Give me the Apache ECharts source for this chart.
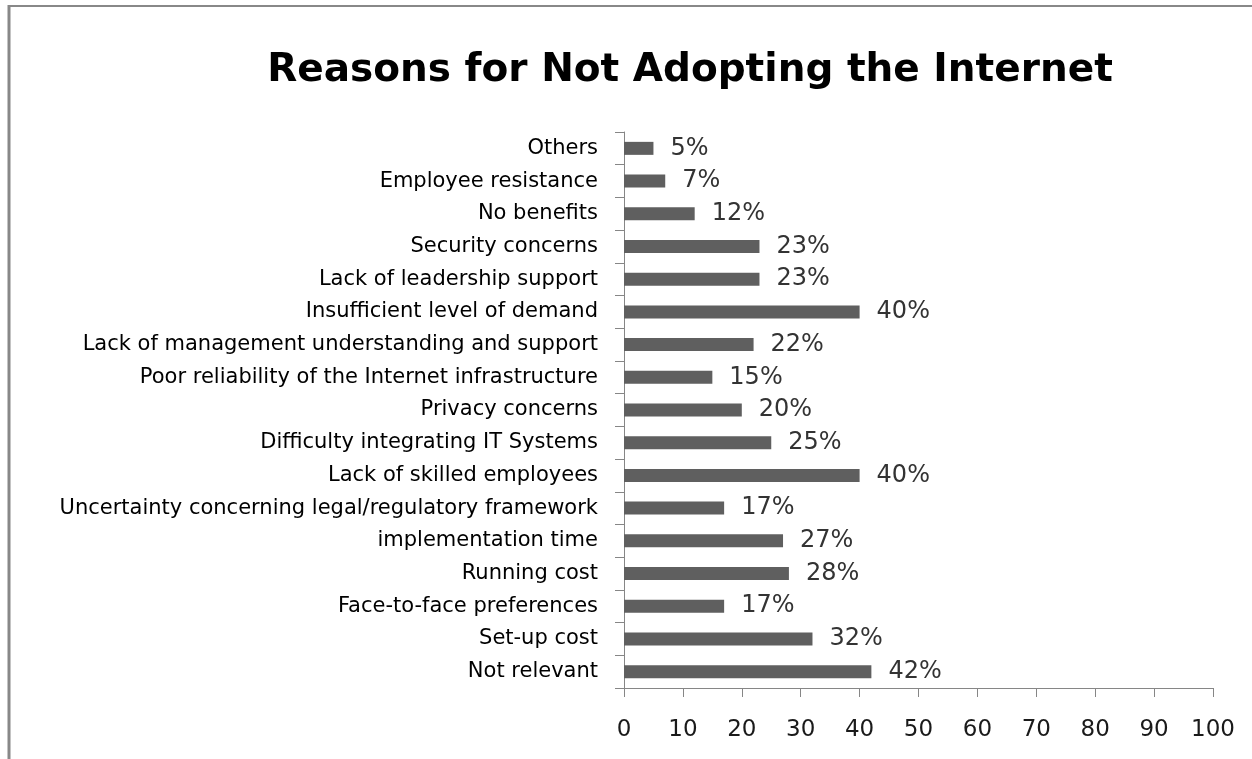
<!DOCTYPE html>
<html>
<head>
<meta charset="utf-8">
<script src="https://cdn.jsdelivr.net/npm/echarts@6/dist/echarts.min.js"></script>
<style>
html,body{margin:0;padding:0;background:#fff;}
#chart{width:1252px;height:759px;}
</style>
</head>
<body>
<div id="chart"></div>
<script>
const titleText = 'Reasons for Not Adopting the Internet';
const categories = [
  'Not relevant',
  'Set-up cost',
  'Face-to-face preferences',
  'Running cost',
  'implementation time',
  'Uncertainty concerning legal/regulatory framework',
  'Lack of skilled employees',
  'Difficulty integrating IT Systems',
  'Privacy concerns',
  'Poor reliability of the Internet infrastructure',
  'Lack of management understanding and support',
  'Insufficient level of demand',
  'Lack of leadership support',
  'Security concerns',
  'No benefits',
  'Employee resistance',
  'Others'
];
const values = [42, 32, 17, 28, 27, 17, 40, 25, 20, 15, 22, 40, 23, 23, 12, 7, 5];
const xTicks = [0, 10, 20, 30, 40, 50, 60, 70, 80, 90, 100];

const chart = echarts.init(document.getElementById('chart'), null, {renderer: 'canvas'});
chart.setOption({
  animation: false,
  backgroundColor: '#ffffff',
  title: {
    text: titleText,
    left: 685,
    textAlign: 'center',
    top: 46,
    textStyle: {fontFamily: 'DejaVu Sans', fontWeight: 'bold', fontSize: 39, color: '#000'}
  },
  graphic: [
    {type: 'line', shape: {x1: 8, y1: 6, x2: 1252, y2: 6}, style: {stroke: '#888', lineWidth: 2}},
    {type: 'line', shape: {x1: 9, y1: 5, x2: 9, y2: 759}, style: {stroke: '#888', lineWidth: 3}}
  ],
  grid: {left: 624, right: 39, top: 132, bottom: 71, containLabel: false},
  xAxis: {
    type: 'value',
    min: xTicks[0],
    max: xTicks[xTicks.length - 1],
    interval: 10,
    splitLine: {show: false},
    axisLine: {show: true, lineStyle: {color: '#868686', width: 1}},
    axisTick: {show: true, length: 9, lineStyle: {color: '#868686'}},
    axisLabel: {margin: 31, fontFamily: 'DejaVu Sans', fontSize: 23, color: '#1a1a1a'}
  },
  yAxis: {
    type: 'category',
    data: categories,
    axisLine: {show: true, lineStyle: {color: '#868686', width: 1}},
    axisTick: {show: true, length: 9, lineStyle: {color: '#868686'}},
    axisLabel: {margin: 26, fontFamily: 'DejaVu Sans', fontSize: 21, color: '#000'}
  },
  series: [{
    type: 'bar',
    data: values,
    barWidth: 13,
    itemStyle: {color: '#5f5f5f'},
    label: {
      show: true,
      position: 'right',
      distance: 17,
      formatter: p => p.value + '%',
      fontFamily: 'DejaVu Sans',
      fontSize: 24,
      color: '#333'
    }
  }]
});
</script>
</body>
</html>
